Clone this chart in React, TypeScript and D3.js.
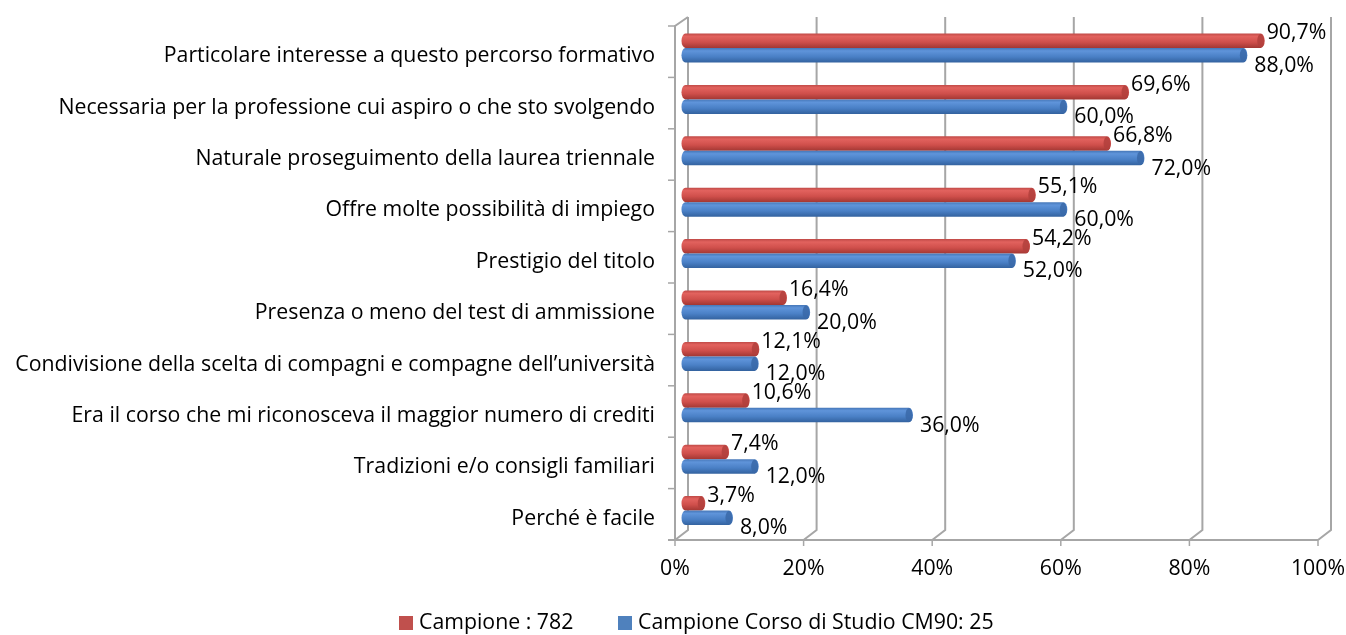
import * as d3 from "d3";
import React from "react";

const categories = [
  "Particolare interesse a questo percorso formativo",
  "Necessaria per la professione cui aspiro o che sto svolgendo",
  "Naturale proseguimento della laurea triennale",
  "Offre molte possibilità di impiego",
  "Prestigio del titolo",
  "Presenza o meno del test di ammissione",
  "Condivisione della scelta di compagni e compagne dell’università",
  "Era il corso che mi riconosceva il maggior numero di crediti",
  "Tradizioni e/o consigli familiari",
  "Perché è facile",
];
const campione = [90.7, 69.6, 66.8, 55.1, 54.2, 16.4, 12.1, 10.6, 7.4, 3.7];
const corso = [88.0, 60.0, 72.0, 60.0, 52.0, 20.0, 12.0, 36.0, 12.0, 8.0];
const xTicks = [0, 20, 40, 60, 80, 100];
const seriesNames = ["Campione : 782", "Campione Corso di Studio CM90: 25"];

const W = 1346;
const H = 635;
const FONT = "'Open Sans', sans-serif";
const FS = 21.3;
// 3d depth offset of the back wall
const DX = 13;
const DY = -10;

function fmt(v: number) {
  return v.toFixed(1).replace(".", ",") + "%";
}

function Bar({ x0, x1, y, h, fill, cap }) {
  const rx = 4;
  const r = h / 2;
  const w = Math.max(x1 - x0, 2 * rx);
  const d = `M${x0 + rx},${y} L${x0 + w - rx},${y} A${rx},${r} 0 0 1 ${x0 + w - rx},${y + h} L${x0 + rx},${y + h} A${rx},${r} 0 0 1 ${x0 + rx},${y} Z`;
  return (
    <g>
      <path d={d} fill={fill} />
      <ellipse cx={x0 + w - rx} cy={y + r} rx={rx - 0.5} ry={r - 0.5} fill={cap} opacity={0.85} />
    </g>
  );
}

export default function App() {
  const x = d3.scaleLinear().domain([0, 100]).range([675, 1318]);
  const y = d3.scaleBand().domain(categories).range([26, 540]);
  const bw = y.bandwidth();
  const barH = 14.5;
  const grid = "#a6a6a6";

  return (
    <svg width={W} height={H} style={{ position: "fixed", left: 0, top: 0, display: "block" }} fontFamily={FONT}>
      <defs>
        <linearGradient id="gRed" x1="0" y1="0" x2="0" y2="1">
          <stop offset="0" stopColor="#c04a47" />
          <stop offset="0.2" stopColor="#e2625e" />
          <stop offset="0.6" stopColor="#cf4f4b" />
          <stop offset="1" stopColor="#a23733" />
        </linearGradient>
        <linearGradient id="gBlue" x1="0" y1="0" x2="0" y2="1">
          <stop offset="0" stopColor="#4677b8" />
          <stop offset="0.2" stopColor="#5f94da" />
          <stop offset="0.6" stopColor="#4a80c6" />
          <stop offset="1" stopColor="#33629f" />
        </linearGradient>
      </defs>

      {/* back wall gridlines with floor bend */}
      {xTicks.map((t) => (
        <path
          key={t}
          d={`M${x(t) + DX},${26 + DY + 1} L${x(t) + DX},${540 + DY} L${x(t)},540`}
          fill="none"
          stroke={grid}
          strokeWidth={2}
        />
      ))}
      {/* left wall */}
      <path d={`M${x(0)},540 L${x(0)},26 L${x(0) + DX},${26 + DY + 1}`} fill="none" stroke={grid} strokeWidth={2} />
      {categories.map((c) => (
        <line key={c} x1={x(0) - 7} x2={x(0)} y1={y(c)} y2={y(c)} stroke={grid} strokeWidth={1.5} />
      ))}
      {/* floor front edge */}
      <line x1={x(0) - 7} x2={x(100)} y1={540} y2={540} stroke={grid} strokeWidth={2} />
      {xTicks.map((t) => (
        <line key={t} x1={x(t)} x2={x(t)} y1={540} y2={546} stroke={grid} strokeWidth={1.5} />
      ))}

      {/* bars */}
      {categories.map((c, i) => {
        const top = y(c) + DY / 2 + 12.5;
        const sx = DX / 2;
        const rEnd = x(campione[i]) + sx;
        const bEnd = x(corso[i]) + sx;
        return (
          <g key={c}>
            <Bar x0={x(0) + sx} x1={rEnd} y={top} h={barH} fill="url(#gRed)" cap="#b23f3c" />
            <Bar x0={x(0) + sx} x1={bEnd} y={top + barH} h={barH} fill="url(#gBlue)" cap="#3a69a8" />
            <text x={rEnd + 2} y={top + barH / 2 - 9} dy="0.35em" fontSize={FS} fill="#000">
              {fmt(campione[i])}
            </text>
            <text x={bEnd + 7} y={top + barH * 1.5 + 9} dy="0.35em" fontSize={FS} fill="#000">
              {fmt(corso[i])}
            </text>
          </g>
        );
      })}

      {/* category labels */}
      {categories.map((c) => (
        <text key={c} x={655} y={y(c) + bw / 2 + 3} dy="0.35em" textAnchor="end" fontSize={FS} fill="#000">
          {c}
        </text>
      ))}

      {/* x tick labels */}
      {xTicks.map((t) => (
        <text key={t} x={x(t)} y={568} dy="0.35em" textAnchor="middle" fontSize={FS} fill="#000">
          {t + "%"}
        </text>
      ))}

      {/* legend */}
      <rect x={399} y={616} width={14} height={14} fill="#c0504d" />
      <text x={419} y={622} dy="0.35em" fontSize={FS} fill="#000">{seriesNames[0]}</text>
      <rect x={618} y={616} width={14} height={14} fill="#4f81bd" />
      <text x={638} y={622} dy="0.35em" fontSize={FS} fill="#000">{seriesNames[1]}</text>
    </svg>
  );
}
